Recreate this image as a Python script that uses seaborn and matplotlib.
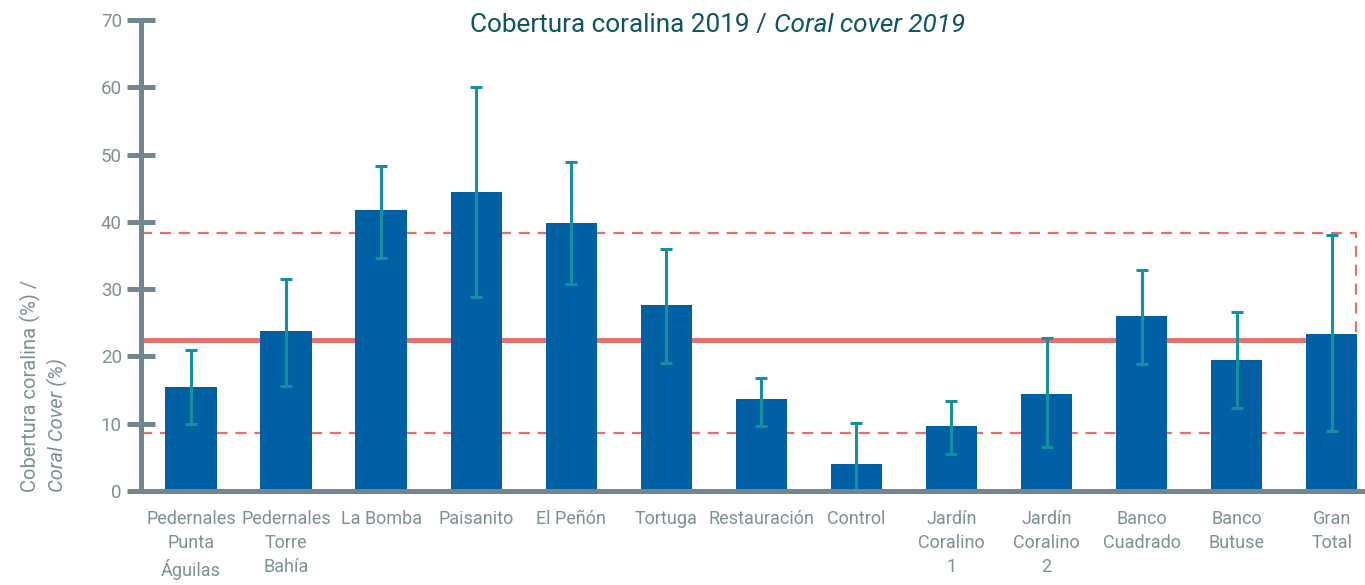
import matplotlib
matplotlib.use("Agg")
import matplotlib.pyplot as plt
import seaborn as sns
import pandas as pd
import numpy as np

sites = ["Pedernales\nPunta\nÁguilas", "Pedernales\nTorre\nBahía", "La Bomba", "Paisanito",
         "El Peñón", "Tortuga", "Restauración", "Control", "Jardín\nCoralino\n1",
         "Jardín\nCoralino\n2", "Banco\nCuadrado", "Banco\nButuse", "Gran\nTotal"]
cover = [15.5, 23.8, 41.8, 44.4, 39.8, 27.6, 13.7, 4.0, 9.7, 14.4, 26.0, 19.5, 23.3]
err_low = [5.5, 8.2, 7.2, 15.6, 9.0, 8.6, 4.0, 4.0, 4.2, 7.8, 7.1, 7.2, 14.4]
err_high = [5.5, 7.7, 6.5, 15.7, 9.1, 8.3, 3.1, 6.1, 3.7, 8.4, 6.8, 7.1, 14.7]
mean_line = 22.5
upper_line = 38.3
lower_line = 8.6

sns.set_theme(style="white")
plt.rcParams['font.family'] = ['Roboto', 'DejaVu Sans']

grey = '#6f878d'
label_grey = '#7d9096'
bar_blue = '#0060a4'
err_col = '#1590a2'
red = '#e5706c'

df = pd.DataFrame({"site": sites, "cover": cover})

fig = plt.figure(figsize=(13.65, 5.85), dpi=100)
ax = fig.add_axes([141/1365, 94/585, 1 - 141/1365, 471/585])

sns.barplot(data=df, x="site", y="cover", color=bar_blue, saturation=1, width=0.54,
            ax=ax, zorder=3, errorbar=None, linewidth=0, edgecolor='none')

xs = np.arange(len(sites))
ax.errorbar(xs, cover, yerr=[err_low, err_high], fmt='none', ecolor=err_col,
            elinewidth=2.2, capsize=4.3, capthick=2.2, zorder=4)

xl, xr = -0.526, 12.35
right_edge = len(sites) - 1 + 0.26
ax.plot([xl, right_edge], [mean_line, mean_line], color=red, lw=3.6, zorder=2,
        solid_capstyle='butt')
ax.plot([xl, right_edge, right_edge], [upper_line, upper_line, lower_line], color=red, lw=1.6,
        dashes=(5, 3.5), zorder=2)
ax.plot([xl, right_edge], [lower_line, lower_line], color=red, lw=1.6, dashes=(5, 3.5), zorder=2)

ax.set_xlim(xl, xr)
ax.set_ylim(0, 70)
ax.set_yticks(range(0, 71, 10))
ax.set_xlabel("")
ax.set_ylabel("")

for s in ['top', 'right']:
    ax.spines[s].set_visible(False)
for s in ['left', 'bottom']:
    ax.spines[s].set_color(grey)
    ax.spines[s].set_linewidth(3.6)
    ax.spines[s].set_zorder(5)

ax.tick_params(axis='y', direction='inout', length=19.5, width=3.6, color=grey,
               labelcolor=label_grey, labelsize=13.5, pad=4, left=True)
ax.tick_params(axis='x', length=0, labelcolor=label_grey, labelsize=13, pad=14)
for t in ax.get_xticklabels():
    t.set_linespacing(1.42)
    t.set_verticalalignment('top')

fig.text(30/1365, 1 - 492/585, "Cobertura coralina (%) /", rotation=90, ha='center', va='bottom',
         color=label_grey, fontsize=14.5)
fig.text(57/1365, 1 - 492/585, "Coral Cover (%)", rotation=90, ha='center', va='bottom',
         color=label_grey, fontsize=14.5, style='italic')

fig.text(767/1365, 1 - 25/585, "Cobertura coralina 2019 /", ha='right', va='center',
         color='#0d5560', fontsize=18.8)
fig.text(774/1365, 1 - 25/585, "Coral cover 2019", ha='left', va='center',
         color='#0d5560', fontsize=18.8, style='italic')

fig.savefig("out.png", dpi=100)
